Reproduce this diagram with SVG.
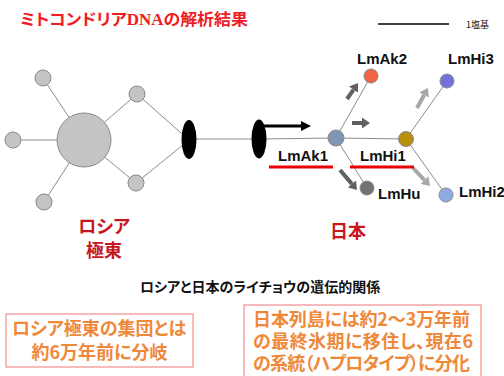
<svg xmlns="http://www.w3.org/2000/svg" width="504" height="376" viewBox="0 0 504 376">
<style>
.jp{font-family:"Noto Sans CJK JP","Noto Sans",sans-serif;font-feature-settings:"palt"}
.title{font-size:16px;font-weight:bold;fill:#f01c24}
.region{font-size:18px;font-weight:bold;fill:#c8161e;text-anchor:middle}
.lbl{font-family:"Liberation Sans",Arial,sans-serif;font-size:15px;font-weight:bold;fill:#111}
.cap{font-size:14px;font-weight:bold;fill:#111;text-anchor:middle}
.box{fill:#fff;stroke:#f4a4a4;stroke-width:1.5}
.boxtxt{font-size:18px;font-weight:bold;fill:#f0883a}
.edge{stroke:#8c8c8c;stroke-width:1;fill:none}
.gnode{fill:#c4c4c4;stroke:#8a8a8a;stroke-width:1}
.bott{fill:#000}
.node{stroke:#8a8a8a;stroke-width:1}
.ul{stroke:#ee0000;stroke-width:3}
.arr-b{stroke:#000;stroke-width:3}
.arr-d{stroke:#606060;stroke-width:4}
.arr-l{stroke:#a8a8a8;stroke-width:4}
</style>
<defs>
<marker id="hb" markerUnits="userSpaceOnUse" markerWidth="10" markerHeight="10" viewBox="0 0 10 10" refX="0" refY="5" orient="auto"><path d="M0,0 L10,5 L0,10 z" fill="#000"/></marker>
<marker id="hd" markerUnits="userSpaceOnUse" markerWidth="8" markerHeight="11" viewBox="0 0 8 11" refX="0" refY="5.5" orient="auto"><path d="M0,0 L8,5.5 L0,11 z" fill="#606060"/></marker>
<marker id="hl" markerUnits="userSpaceOnUse" markerWidth="8" markerHeight="11" viewBox="0 0 8 11" refX="0" refY="5.5" orient="auto"><path d="M0,0 L8,5.5 L0,11 z" fill="#a8a8a8"/></marker>
</defs>
<rect width="504" height="376" fill="#fff"/>

<text class="jp title" x="20" y="25" textLength="228" lengthAdjust="spacingAndGlyphs">ミトコンドリア<tspan font-family="Liberation Serif,serif">DNA</tspan>の解析結果</text>

<g id="scale">
<line x1="378" y1="24" x2="449" y2="24" stroke="#000" stroke-width="1.5"/>
<text class="jp" x="466" y="28" font-size="9" fill="#111">1塩基</text>
</g>

<g id="connectors">
<line class="edge" x1="84" y1="140" x2="43" y2="78"/>
<line class="edge" x1="84" y1="140" x2="13" y2="140"/>
<line class="edge" x1="84" y1="140" x2="44" y2="202"/>
<line class="edge" x1="84" y1="140" x2="137" y2="94"/>
<line class="edge" x1="84" y1="140" x2="136" y2="183"/>
<line class="edge" x1="137" y1="94" x2="189" y2="140"/>
<line class="edge" x1="136" y1="183" x2="189" y2="140"/>
<line class="edge" x1="189" y1="139" x2="259" y2="139"/>
<line class="edge" x1="259" y1="139" x2="336" y2="138"/>
<line class="edge" x1="336" y1="138" x2="406" y2="139"/>
<line class="edge" x1="336" y1="138" x2="371" y2="76"/>
<line class="edge" x1="336" y1="138" x2="367" y2="188"/>
<line class="edge" x1="406" y1="139" x2="447" y2="81"/>
<line class="edge" x1="406" y1="139" x2="446" y2="195"/>
<line class="arr-b" x1="263" y1="126" x2="301" y2="126" marker-end="url(#hb)"/>
<line class="arr-d" x1="352" y1="123" x2="362" y2="123" marker-end="url(#hd)"/>
<line class="arr-d" x1="347" y1="99" x2="353.5" y2="89.6" marker-end="url(#hd)"/>
<line class="arr-d" x1="340" y1="170" x2="351.8" y2="183.9" marker-end="url(#hd)"/>
<line class="arr-l" x1="417" y1="108" x2="424.1" y2="95" marker-end="url(#hl)"/>
<line class="arr-l" x1="413" y1="168" x2="424.5" y2="180.2" marker-end="url(#hl)"/>
</g>

<g id="ru-center"><circle class="gnode" cx="84" cy="140" r="27"/></g>
<g id="ru-n1"><circle class="gnode" cx="43" cy="78" r="8"/></g>
<g id="ru-n2"><circle class="gnode" cx="13" cy="140" r="8"/></g>
<g id="ru-n3"><circle class="gnode" cx="44" cy="202" r="8"/></g>
<g id="ru-n4"><circle class="gnode" cx="137" cy="94" r="8"/></g>
<g id="ru-n5"><circle class="gnode" cx="136" cy="183" r="8"/></g>
<g id="bottleneck1"><ellipse class="bott" cx="189" cy="139.5" rx="7.5" ry="19.5"/></g>
<g id="bottleneck2"><ellipse class="bott" cx="259" cy="139" rx="7.5" ry="19.5"/></g>

<g id="LmAk1"><circle class="node" cx="336" cy="138" r="8" fill="#8096b6"/>
<text class="lbl" x="278" y="161">LmAk1</text>
<line class="ul" x1="269" y1="167" x2="333" y2="167"/></g>
<g id="LmHi1"><circle class="node" cx="406" cy="139" r="7.5" fill="#b8900c"/>
<text class="lbl" x="360" y="161">LmHi1</text>
<line class="ul" x1="350" y1="167" x2="414" y2="167"/></g>
<g id="LmAk2"><circle class="node" cx="371" cy="76" r="7" fill="#f06444"/>
<text class="lbl" x="357" y="64">LmAk2</text></g>
<g id="LmHi3"><circle class="node" cx="447" cy="81" r="7" fill="#7272da"/>
<text class="lbl" x="448" y="64">LmHi3</text></g>
<g id="LmHu"><circle class="node" cx="367" cy="188" r="7" fill="#727272"/>
<text class="lbl" x="378" y="199">LmHu</text></g>
<g id="LmHi2"><circle class="node" cx="446" cy="195" r="7" fill="#8cabe2"/>
<text class="lbl" x="459" y="197">LmHi2</text></g>

<g id="label-russia">
<text class="jp region" x="104" y="233">ロシア</text>
<text class="jp region" x="104" y="257">極東</text>
</g>
<g id="label-japan"><text class="jp region" x="348" y="238">日本</text></g>

<text class="jp cap" x="260" y="292">ロシアと日本のライチョウの遺伝的関係</text>

<g id="box-left">
<rect class="box" x="6" y="314" width="187" height="53"/>
<text class="jp boxtxt" x="99" y="335" text-anchor="middle">ロシア極東の集団とは</text>
<text class="jp boxtxt" x="99.5" y="359" text-anchor="middle">約6万年前に分岐</text>
</g>
<g id="box-right">
<rect class="box" x="244" y="305" width="237" height="80"/>
<text class="jp boxtxt" x="253" y="326" textLength="217">日本列島には約2〜3万年前</text>
<text class="jp boxtxt" x="253" y="348" textLength="220">の最終氷期に移住し、現在6</text>
<text class="jp boxtxt" x="253" y="370" textLength="217">の系統（ハプロタイプ）に分化</text>
</g>
</svg>
